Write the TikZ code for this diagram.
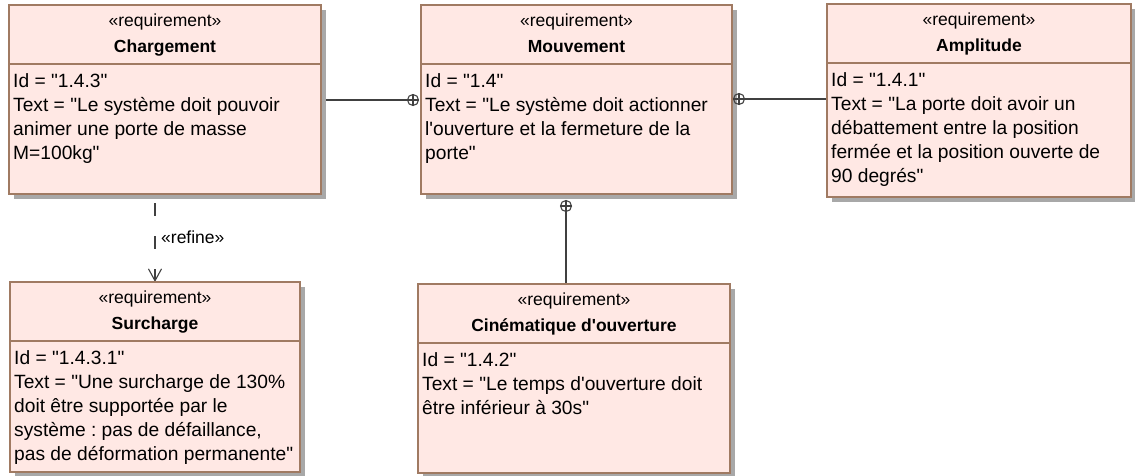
\documentclass[tikz,border=0pt]{standalone}
\usepackage{fontspec}
\setmainfont{Liberation Sans}[Ligatures=TeXOff]
\usetikzlibrary{arrows.meta,shadows}
\frenchspacing

\definecolor{reqfill}{RGB}{255,232,228}
\definecolor{reqline}{RGB}{160,122,98}
\definecolor{shade}{RGB}{168,168,168}
\definecolor{wirecol}{RGB}{64,64,64}

% straight quotation mark and apostrophe
\newcommand\qq{\textquotedbl}
\newcommand\ap{\textquotesingle}

\pgfdeclarelayer{links}
\pgfsetlayers{links,main}

\tikzset{
  reqbox/.style={rectangle, draw=reqline, line width=1.3pt, fill=reqfill,
    inner sep=0pt, outer sep=0pt, anchor=north west,
    drop shadow={shadow xshift=5pt, shadow yshift=-5pt, fill=shade, opacity=1}},
  divider/.style={draw=reqline, line width=1.3pt},
  stereo/.style={font=\fontsize{17.5}{21}\selectfont, inner sep=0pt, anchor=base},
  reqname/.style={font=\fontsize{17.5}{21}\selectfont\bfseries, inner sep=0pt, anchor=base},
  reqbody/.style={font=\fontsize{19.2}{24}\selectfont, inner sep=0pt, anchor=base west},
  wire/.style={draw=wirecol, line width=1.1pt},
  containment/.style={circle, draw=wirecol, line width=1.1pt, minimum size=11pt,
    inner sep=0pt, outer sep=0pt,
    path picture={\draw[wirecol, line width=1.1pt]
      (path picture bounding box.north) -- (path picture bounding box.south)
      (path picture bounding box.west) -- (path picture bounding box.east);}},
}

% #1 name, #2 left, #3 top, #4 width, #5 height, #6 title, #7 body lines
\newcommand\reqblock[7]{%
  \node[reqbox, minimum width=#4pt, minimum height=#5pt] (#1) at (#2,#3) {};
  \draw[divider] ([yshift=-59pt]#1.north west) -- ([yshift=-59pt]#1.north east);
  \node[stereo] (#1-st) at ([yshift=-21pt]#1.north) {«requirement»};
  \node[reqname] (#1-nm) at ([yshift=-47pt]#1.north) {#6};
  \node[reqbody] (#1-tx) at ([xshift=4pt,yshift=-82pt]#1.north west)
    {\begin{tabular}[t]{@{}l@{}}#7\end{tabular}};
}

\begin{document}
\begin{tikzpicture}[x=1pt, y=-1pt]
\useasboundingbox (0,0) rectangle (1135,475);

\reqblock{charg}{9}{5}{312}{189}{Chargement}
  {Id = \qq1.4.3\qq\\ Text = \qq Le système doit pouvoir\\ animer une porte de masse\\ M=100kg\qq}
\reqblock{mouv}{421}{5}{311}{189}{Mouvement}
  {Id = \qq1.4\qq\\ Text = \qq Le système doit actionner\\ l\ap ouverture et la fermeture de la\\ porte\qq}
\reqblock{ampl}{827}{4}{304}{193}{Amplitude}
  {Id = \qq1.4.1\qq\\ Text = \qq La porte doit avoir un\\ débattement entre la position\\ fermée et la position ouverte de\\ 90 degrés\qq}
\reqblock{surch}{10}{282}{290}{190}{Surcharge}
  {Id = \qq1.4.3.1\qq\\ Text = \qq Une surcharge de 130\%\\ doit être supportée par le\\ système : pas de défaillance,\\ pas de déformation permanente\qq}
\reqblock{cine}{418}{284}{312}{189}{Cinématique d\ap ouverture}
  {Id = \qq1.4.2\qq\\ Text = \qq Le temps d\ap ouverture doit\\ être inférieur à 30s\qq}

% containment ends on the parent requirement
\node[containment] (cm1) at (413,100) {};
\node[containment] (cm2) at (739,99) {};
\node[containment] (cm3) at (566,206) {};

% refine dependency start
\coordinate (rf) at (155,203);

\begin{pgfonlayer}{links}
  \draw[wire] (charg.east |- cm1) -- (cm1.west);
  \draw[wire] (cm2.east) -- (ampl.west |- cm2);
  \draw[wire] (cm3.south) -- (cine.north -| cm3);
  \draw[wire, dash pattern=on 13pt off 20pt,
        -{Straight Barb[length=12pt, width=13pt, line width=1.1pt]}]
    (rf) -- (surch.north -| rf);
\end{pgfonlayer}
\node[stereo, anchor=base west] (rflabel) at (161,243) {«refine»};

\end{tikzpicture}
\end{document}
